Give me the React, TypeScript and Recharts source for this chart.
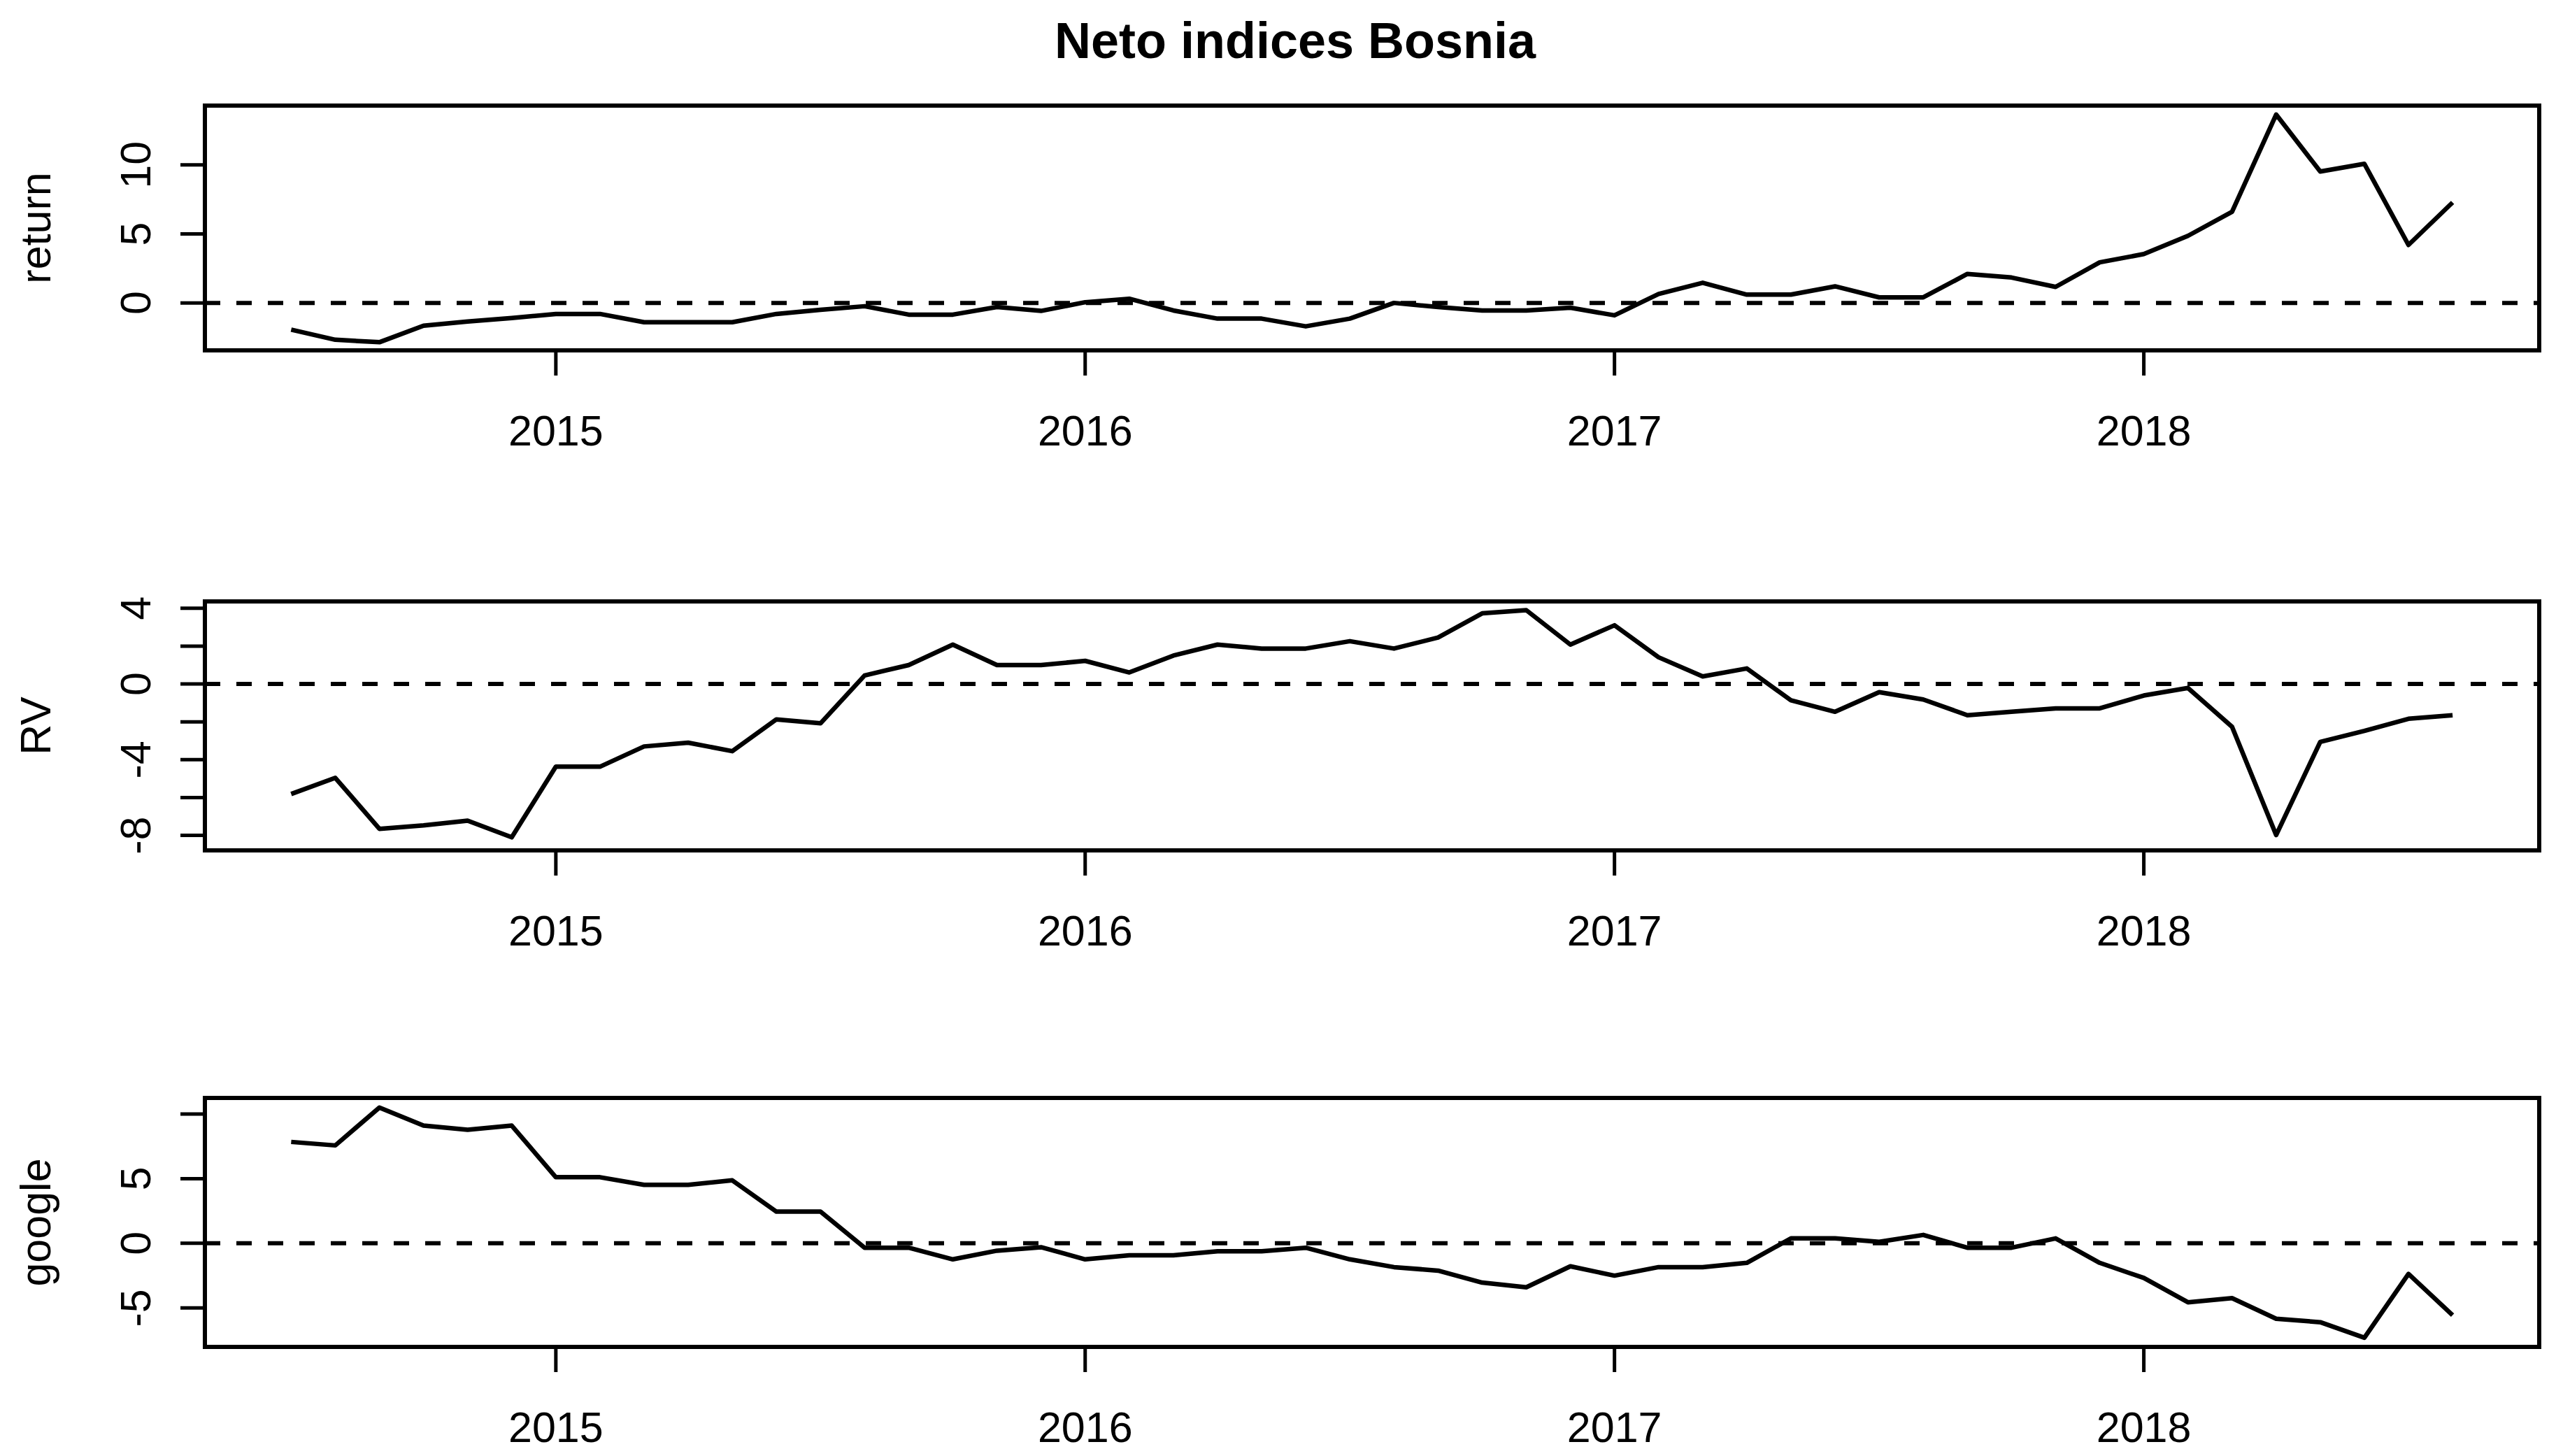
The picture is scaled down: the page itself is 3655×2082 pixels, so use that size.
import React from 'react';
import { LineChart, Line, XAxis, YAxis, ReferenceLine, ReferenceArea } from 'recharts';

const FONT = '"Liberation Sans", Arial, Helvetica, sans-serif';

// monthly series, first observation July 2014
const startYear = 2014;
const startMonth = 7;

const returnValues = [
  -1.94, -2.67, -2.85, -1.65, -1.35, -1.1, -0.8, -0.8, -1.4, -1.4,
  -1.4, -0.8, -0.5, -0.24, -0.85, -0.85, -0.3, -0.58, 0.05, 0.3,
  -0.55, -1.14, -1.14, -1.7, -1.14, 0.0, -0.3, -0.55, -0.55, -0.35,
  -0.9, 0.65, 1.46, 0.6, 0.6, 1.2, 0.4, 0.4, 2.1, 1.84,
  1.16, 2.94, 3.54, 4.86, 6.6, 13.65, 9.52, 10.08, 4.2, 7.28,
];

const rvValues = [
  -5.81, -4.96, -7.65, -7.47, -7.22, -8.1, -4.37, -4.37, -3.3, -3.1,
  -3.55, -1.87, -2.08, 0.45, 1.0, 2.08, 1.0, 1.0, 1.22, 0.61,
  1.5, 2.08, 1.87, 1.87, 2.26, 1.87, 2.45, 3.73, 3.9, 2.08,
  3.1, 1.41, 0.4, 0.82, -0.86, -1.47, -0.43, -0.82, -1.65, -1.47,
  -1.29, -1.29, -0.61, -0.21, -2.26, -7.98, -3.06, -2.48, -1.84, -1.65,
];

const googleValues = [
  7.84, 7.57, 10.5, 9.1, 8.78, 9.1, 5.11, 5.11, 4.52, 4.52,
  4.87, 2.45, 2.45, -0.34, -0.34, -1.24, -0.57, -0.3, -1.24, -0.93,
  -0.93, -0.61, -0.61, -0.34, -1.24, -1.84, -2.11, -3.04, -3.4, -1.78,
  -2.5, -1.84, -1.84, -1.51, 0.38, 0.38, 0.11, 0.65, -0.34, -0.34,
  0.38, -1.51, -2.68, -4.56, -4.24, -5.83, -6.1, -7.3, -2.37, -5.55,
];

const xTicks = [2015, 2016, 2017, 2018];
const xRange = [2014.337, 2018.747];

const returnTicks = [0, 5, 10];
const returnLabelled = [0, 5, 10];
const returnRange = [-3.44, 14.3];

const rvTicks = [-8, -6, -4, -2, 0, 2, 4];
const rvLabelled = [-8, -4, 0, 4];
const rvRange = [-8.79, 4.36];

const googleTicks = [-5, 0, 5, 10];
const googleLabelled = [-5, 0, 5];
const googleRange = [-8.01, 11.24];

const toRows = (values: number[]) =>
  values.map((v, i) => ({ t: startYear + (startMonth - 1 + i) / 12, v }));

const W = 3655;
const PAD_TOP = 100;

type PanelProps = {
  values: number[];
  ticks: number[];
  labelled: number[];
  range: number[];
  plotTop: number;
  plotHeight: number;
};

const Panel = ({ values, ticks, labelled, range, plotTop, plotHeight }: PanelProps) => {
  const h = plotHeight + PAD_TOP + 200;
  const bottom = PAD_TOP + plotHeight;
  return (
    <div style={{ position: 'absolute', left: 0, top: plotTop - PAD_TOP, width: W, height: h }}>
      <LineChart
        width={W}
        height={h}
        data={toRows(values)}
        margin={{ top: PAD_TOP, right: 24, bottom: 50, left: 0 }}
      >
        <XAxis
          dataKey="t"
          type="number"
          domain={xRange}
          ticks={xTicks}
          interval={0}
          allowDataOverflow
          height={150}
          axisLine={false}
          tickSize={36}
          tickLine={{ stroke: '#000', strokeWidth: 5 }}
          tick={({ x, payload }: any) => (
            <text x={x} y={bottom + 136} textAnchor="middle" fontSize={61} fontFamily={FONT} fill="#000">
              {payload.value}
            </text>
          )}
        />
        <YAxis
          type="number"
          domain={range}
          ticks={ticks}
          interval={0}
          allowDataOverflow
          width={293}
          axisLine={false}
          tickSize={35}
          tickLine={{ stroke: '#000', strokeWidth: 5 }}
          tick={({ y, payload }: any) =>
            labelled.includes(payload.value) ? (
              <text
                x={215}
                y={y}
                transform={`rotate(-90, 215, ${y})`}
                textAnchor="middle"
                fontSize={61}
                fontFamily={FONT}
                fill="#000"
              >
                {payload.value}
              </text>
            ) : (
              <g />
            )
          }
        />
        <ReferenceLine y={0} stroke="#000" strokeWidth={6} strokeDasharray="22 23" />
        <Line
          type="linear"
          dataKey="v"
          stroke="#000"
          strokeWidth={6.5}
          strokeLinejoin="round"
          dot={false}
          isAnimationActive={false}
        />
        <ReferenceArea
          x1={xRange[0]}
          x2={xRange[1]}
          y1={range[0]}
          y2={range[1]}
          fill="none"
          stroke="#000"
          strokeWidth={6}
          ifOverflow="visible"
        />
      </LineChart>
    </div>
  );
};

const panels = [
  { name: 'return', values: returnValues, ticks: returnTicks, labelled: returnLabelled, range: returnRange, plotTop: 151, plotHeight: 350 },
  { name: 'RV', values: rvValues, ticks: rvTicks, labelled: rvLabelled, range: rvRange, plotTop: 860, plotHeight: 356 },
  { name: 'google', values: googleValues, ticks: googleTicks, labelled: googleLabelled, range: googleRange, plotTop: 1570, plotHeight: 356 },
];

export default function App() {
  return (
    <div
      style={{
        position: 'absolute',
        left: 0,
        top: 0,
        width: W,
        height: 2082,
        overflow: 'hidden',
        background: '#fff',
      }}
    >
      {panels.map((p) => (
        <Panel key={p.name} {...p} />
      ))}
      <svg width={W} height={2082} style={{ position: 'absolute', left: 0, top: 0, pointerEvents: 'none' }}>
        <text x={1852} y={83} textAnchor="middle" fontSize={72} fontWeight="bold" fontFamily={FONT} fill="#000">
          Neto indices Bosnia
        </text>
        {panels.map((p) => {
          const cy = p.plotTop + p.plotHeight / 2;
          return (
            <text
              key={p.name}
              x={72}
              y={cy}
              transform={`rotate(-90, 72, ${cy})`}
              textAnchor="middle"
              fontSize={61}
              fontFamily={FONT}
              fill="#000"
            >
              {p.name}
            </text>
          );
        })}
      </svg>
    </div>
  );
}
